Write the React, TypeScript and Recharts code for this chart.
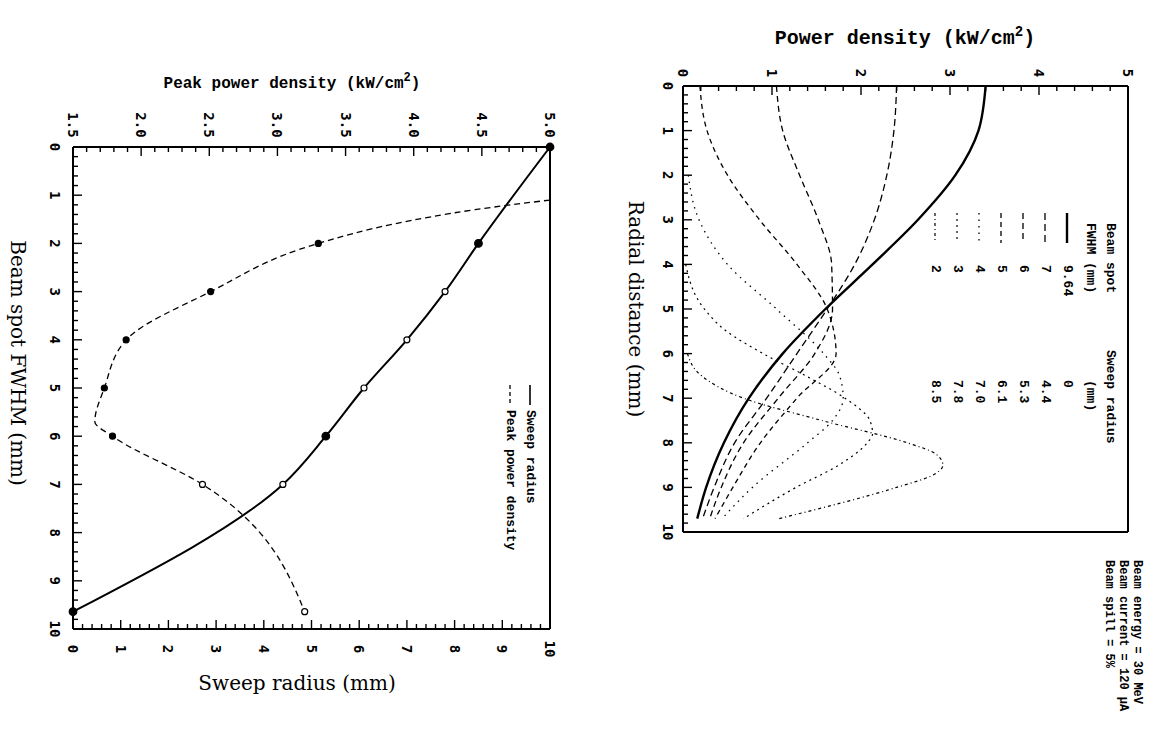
import { Line, LineChart, XAxis, YAxis } from "recharts";

// ---- left panel: sweep radius and peak power density vs beam spot FWHM ----
const beamFwhm = [9.64, 7, 6, 5, 4, 3, 2];
const sweepRadius = [0, 4.4, 5.3, 6.1, 7.0, 7.8, 8.5];

const sweepFwhm = [0, 2, 3, 4, 5, 6, 7, 9.64];
const sweepValues = [10, 8.5, 7.8, 7.0, 6.1, 5.3, 4.4, 0];

const peakFwhm = [1.1, 1.3, 1.6, 2, 3, 4, 5, 5.7, 6, 7, 9.64];
const peakValues = [5.0, 4.45, 3.85, 3.3, 2.51, 1.89, 1.73, 1.66, 1.79, 2.45, 3.2];
const peakMarked = [2, 3, 4, 5, 6, 7, 9.64];

// ---- right panel: radial power density profiles ----
const rGrid = [0, 1, 2, 3, 4, 5, 6, 7, 8, 9, 9.7];
const pSolid964 = [3.4, 3.32, 3.06, 2.64, 2.13, 1.6, 1.12, 0.74, 0.46, 0.26, 0.16];
const pDash7 = [2.4, 2.37, 2.29, 2.15, 1.93, 1.62, 1.28, 0.94, 0.58, 0.35, 0.22];
const pDash6 = [1.05, 1.12, 1.31, 1.52, 1.67, 1.68, 1.48, 1.07, 0.68, 0.43, 0.3];
const pDash5 = [0.19, 0.27, 0.5, 0.86, 1.28, 1.62, 1.72, 1.28, 0.87, 0.56, 0.36];

const rDot4 = [2, 3, 4, 5, 6, 6.5, 7, 7.5, 8, 9, 9.7];
const pDot4 = [0.06, 0.18, 0.5, 1.05, 1.58, 1.76, 1.8, 1.68, 1.4, 0.78, 0.44];
const rDot3 = [4, 5, 5.5, 6, 6.5, 7, 7.5, 7.8, 8, 8.5, 9, 9.7];
const pDot3 = [0.03, 0.24, 0.49, 0.9, 1.38, 1.82, 2.1, 2.13, 2.07, 1.75, 1.27, 0.68];
const rDot2 = [6, 6.5, 7, 7.5, 8, 8.25, 8.5, 8.75, 9, 9.7];
const pDot2 = [0.05, 0.21, 0.68, 1.56, 2.52, 2.84, 2.92, 2.78, 2.4, 1.08];

const peakTicksMajor = [1.5, 2.0, 2.5, 3.0, 3.5, 4.0, 4.5, 5.0];
const tenTicksMajor = [0, 1, 2, 3, 4, 5, 6, 7, 8, 9, 10];
const powerTicksMajor = [0, 1, 2, 3, 4, 5];

const notes = ["Beam energy = 30 MeV", "Beam current = 120 \u00b5A", "Beam spill = 5%"];

const withMinors = (major: number[], parts: number) => {
  const out: number[] = [];
  major.forEach((v, i) => {
    out.push(v);
    if (i < major.length - 1) {
      const step = (major[i + 1] - v) / parts;
      for (let k = 1; k < parts; k++) out.push(Math.round((v + k * step) * 1000) / 1000);
    }
  });
  return out;
};

const zip = (a: number[], b: number[], ka: string, kb: string) =>
  a.map((v, i) => ({ [ka]: v, [kb]: b[i] }));

const sweepData = zip(sweepFwhm, sweepValues, "fwhm", "sweep");
const peakData = zip(peakFwhm, peakValues, "fwhm", "peak");

const profiles = [
  { name: "9.64", data: zip(rGrid, pSolid964, "r", "p"), dash: undefined, width: 2.4 },
  { name: "7", data: zip(rGrid, pDash7, "r", "p"), dash: "7 4", width: 1.3 },
  { name: "6", data: zip(rGrid, pDash6, "r", "p"), dash: "6 4", width: 1.3 },
  { name: "5", data: zip(rGrid, pDash5, "r", "p"), dash: "5 4", width: 1.3 },
  { name: "4", data: zip(rDot4, pDot4, "r", "p"), dash: "1.5 5", width: 1.3 },
  { name: "3", data: zip(rDot3, pDot3, "r", "p"), dash: "2 4", width: 1.2 },
  { name: "2", data: zip(rDot2, pDot2, "r", "p"), dash: "3 3 1 3", width: 1.2 },
];

const ink = "#000";
const tickFont = "'DejaVu Sans Mono', monospace";
const monoFont = "'Liberation Mono', monospace";
const serifFont = "'DejaVu Serif', serif";

function AxisTick(props: any) {
  const { x, y, payload, side, major, digits, gap, noLabel } = props;
  const v = payload.value as number;
  const isMajor = Math.abs(v / major - Math.round(v / major)) < 1e-6;
  const len = isMajor ? 9 : 5;
  let x2 = x;
  let y2 = y;
  let lx = x;
  let ly = y;
  if (side === "top") { y2 = y + len; ly = y - gap; }
  if (side === "bottom") { y2 = y - len; ly = y + gap; }
  if (side === "left") { x2 = x + len; lx = x - gap; }
  if (side === "right") { x2 = x - len; }
  return (
    <g>
      <line x1={x} y1={y} x2={x2} y2={y2} stroke={ink} strokeWidth={1.4} />
      {isMajor && !noLabel && (
        <text
          x={lx}
          y={ly}
          transform={`rotate(90 ${lx} ${ly})`}
          textAnchor="middle"
          dominantBaseline="central"
          fontFamily={tickFont}
          fontWeight="bold"
          fontSize={14}
          fill={ink}
        >
          {digits ? v.toFixed(digits) : String(v)}
        </text>
      )}
    </g>
  );
}

const sweepFilled = [0, 2, 6, 9.64];
function SweepDot(props: any) {
  const { cx, cy, payload } = props;
  const filled = sweepFilled.includes(payload.fwhm);
  return (
    <circle cx={cx} cy={cy} r={filled ? 3.8 : 3} fill={filled ? ink : "#fff"} stroke={ink} strokeWidth={1.2} />
  );
}

function PeakDot(props: any) {
  const { cx, cy, payload } = props;
  if (!peakMarked.includes(payload.fwhm)) return <g />;
  const open = payload.fwhm >= 7;
  return <circle cx={cx} cy={cy} r={3} fill={open ? "#fff" : ink} stroke={ink} strokeWidth={1.2} />;
}

function VText({ x, y, children, size = 13, anchor = "start", font = monoFont, bold = true }: any) {
  return (
    <text
      x={x}
      y={y}
      transform={`rotate(90 ${x} ${y})`}
      textAnchor={anchor}
      dominantBaseline="central"
      fontFamily={font}
      fontWeight={bold ? "bold" : "normal"}
      fontSize={size}
      fill={ink}
    >
      {children}
    </text>
  );
}

const axisLine = { stroke: ink, strokeWidth: 2 };

function LeftPanel() {
  return (
    <LineChart
      width={620}
      height={756}
      layout="vertical"
      margin={{ top: 107, left: 33, right: 50, bottom: 87 }}
    >
      <XAxis
        xAxisId="peak"
        orientation="top"
        type="number"
        domain={[1.5, 5]}
        ticks={withMinors(peakTicksMajor, 5)}
        interval={0}
        height={40}
        tickSize={0}
        tickMargin={0}
        tickLine={false}
        axisLine={axisLine}
        tick={<AxisTick side="top" major={0.5} digits={1} gap={22} />}
      />
      <XAxis
        xAxisId="sweep"
        orientation="bottom"
        type="number"
        domain={[0, 10]}
        ticks={withMinors(tenTicksMajor, 5)}
        interval={0}
        height={40}
        tickSize={0}
        tickMargin={0}
        tickLine={false}
        axisLine={axisLine}
        tick={<AxisTick side="bottom" major={1} gap={20} />}
      />
      <YAxis
        yAxisId="fwhm"
        orientation="left"
        type="number"
        dataKey="fwhm"
        domain={[0, 10]}
        ticks={withMinors(tenTicksMajor, 5)}
        interval={0}
        width={40}
        tickSize={0}
        tickMargin={0}
        tickLine={false}
        axisLine={axisLine}
        tick={<AxisTick side="left" major={1} gap={18} />}
      />
      <YAxis
        yAxisId="fwhmMirror"
        orientation="right"
        type="number"
        domain={[0, 10]}
        ticks={withMinors(tenTicksMajor, 5)}
        interval={0}
        width={20}
        tickSize={0}
        tickMargin={0}
        tickLine={false}
        axisLine={axisLine}
        tick={<AxisTick side="right" major={1} noLabel />}
      />
      <Line
        data={sweepData}
        xAxisId="sweep"
        yAxisId="fwhm"
        dataKey="sweep"
        type="monotoneY"
        stroke={ink}
        strokeWidth={2}
        dot={<SweepDot />}
        isAnimationActive={false}
      />
      <Line
        data={peakData}
        xAxisId="peak"
        yAxisId="fwhm"
        dataKey="peak"
        type="monotoneY"
        stroke={ink}
        strokeWidth={1.3}
        strokeDasharray="6 4"
        dot={<PeakDot />}
        isAnimationActive={false}
      />
    </LineChart>
  );
}

function RightPanel() {
  return (
    <LineChart
      width={553}
      height={756}
      layout="vertical"
      margin={{ top: 46, left: 43, right: 5, bottom: 184 }}
    >
      <XAxis
        xAxisId="p"
        orientation="top"
        type="number"
        domain={[0, 5]}
        ticks={withMinors(powerTicksMajor, 5)}
        interval={0}
        height={40}
        tickSize={0}
        tickMargin={0}
        tickLine={false}
        axisLine={axisLine}
        tick={<AxisTick side="top" major={1} gap={13} />}
      />
      <XAxis
        xAxisId="pMirror"
        orientation="bottom"
        type="number"
        domain={[0, 5]}
        ticks={withMinors(powerTicksMajor, 5)}
        interval={0}
        height={40}
        tickSize={0}
        tickMargin={0}
        tickLine={false}
        axisLine={axisLine}
        tick={<AxisTick side="bottom" major={1} noLabel />}
      />
      <YAxis
        yAxisId="r"
        orientation="left"
        type="number"
        dataKey="r"
        domain={[0, 10]}
        ticks={withMinors(tenTicksMajor, 5)}
        interval={0}
        width={40}
        tickSize={0}
        tickMargin={0}
        tickLine={false}
        axisLine={axisLine}
        tick={<AxisTick side="left" major={1} gap={15} />}
      />
      <YAxis
        yAxisId="rMirror"
        orientation="right"
        type="number"
        domain={[0, 10]}
        ticks={withMinors(tenTicksMajor, 5)}
        interval={0}
        width={20}
        tickSize={0}
        tickMargin={0}
        tickLine={false}
        axisLine={axisLine}
        tick={<AxisTick side="right" major={1} noLabel />}
      />
      {profiles.map((c) => (
        <Line
          key={c.name}
          data={c.data}
          xAxisId="p"
          yAxisId="r"
          dataKey="p"
          type="monotoneY"
          stroke={ink}
          strokeWidth={c.width}
          strokeDasharray={c.dash}
          dot={false}
          isAnimationActive={false}
        />
      ))}
    </LineChart>
  );
}

function Overlay() {
  return (
    <svg
      width={1153}
      height={756}
      style={{ position: "absolute", left: 0, top: 0, pointerEvents: "none" }}
    >
      {/* left panel titles */}
      <text x={292} y={88} textAnchor="middle" fontFamily={monoFont} fontWeight="bold" fontSize={16} fill={ink}>
        Peak power density (kW/cm<tspan dy={-7} fontSize={12}>2</tspan>
        <tspan dy={7}>)</tspan>
      </text>
      <text x={297} y={690} textAnchor="middle" fontFamily={serifFont} fontSize={20} fill={ink}>
        Sweep radius (mm)
      </text>
      <VText x={18} y={363} anchor="middle" font={serifFont} bold={false} size={20}>
        Beam spot FWHM (mm)
      </VText>
      {/* left panel legend */}
      <line x1={530} x2={530} y1={385} y2={405} stroke={ink} strokeWidth={1.6} />
      <VText x={530} y={410}>Sweep radius</VText>
      <line x1={510} x2={510} y1={385} y2={405} stroke={ink} strokeWidth={1.3} strokeDasharray="4 3" />
      <VText x={510} y={410}>Peak power density</VText>

      {/* right panel titles */}
      <text x={905} y={44} textAnchor="middle" fontFamily={monoFont} fontWeight="bold" fontSize={20} fill={ink}>
        Power density (kW/cm<tspan dy={-8} fontSize={14}>2</tspan>
        <tspan dy={8}>)</tspan>
      </text>
      <VText x={636} y={309} anchor="middle" font={serifFont} bold={false} size={20}>
        Radial distance (mm)
      </VText>
      {/* right panel legend */}
      <VText x={1110} y={223}>Beam spot</VText>
      <VText x={1090} y={223}>FWHM (mm)</VText>
      <VText x={1110} y={350}>Sweep radius</VText>
      <VText x={1090} y={380}>(mm)</VText>
      {beamFwhm.map((f, i) => {
        const x = 1067 - 22 * i;
        const c = profiles[i];
        return (
          <g key={f}>
            <line x1={x} x2={x} y1={213} y2={243} stroke={ink} strokeWidth={c.width} strokeDasharray={c.dash} />
            <VText x={x} y={265}>{String(f)}</VText>
            <VText x={x} y={380}>{sweepRadius[i] === 0 ? "0" : sweepRadius[i].toFixed(1)}</VText>
          </g>
        );
      })}
      {notes.map((t, i) => (
        <VText key={t} x={1137 - 14 * i} y={560} size={12}>
          {t}
        </VText>
      ))}
    </svg>
  );
}

export default function App() {
  return (
    <div style={{ position: "absolute", left: 0, top: 0, width: 1153, height: 756, background: "#fff" }}>
      <div style={{ position: "absolute", left: 0, top: 0 }}>
        <LeftPanel />
      </div>
      <div style={{ position: "absolute", left: 600, top: 0 }}>
        <RightPanel />
      </div>
      <Overlay />
    </div>
  );
}
